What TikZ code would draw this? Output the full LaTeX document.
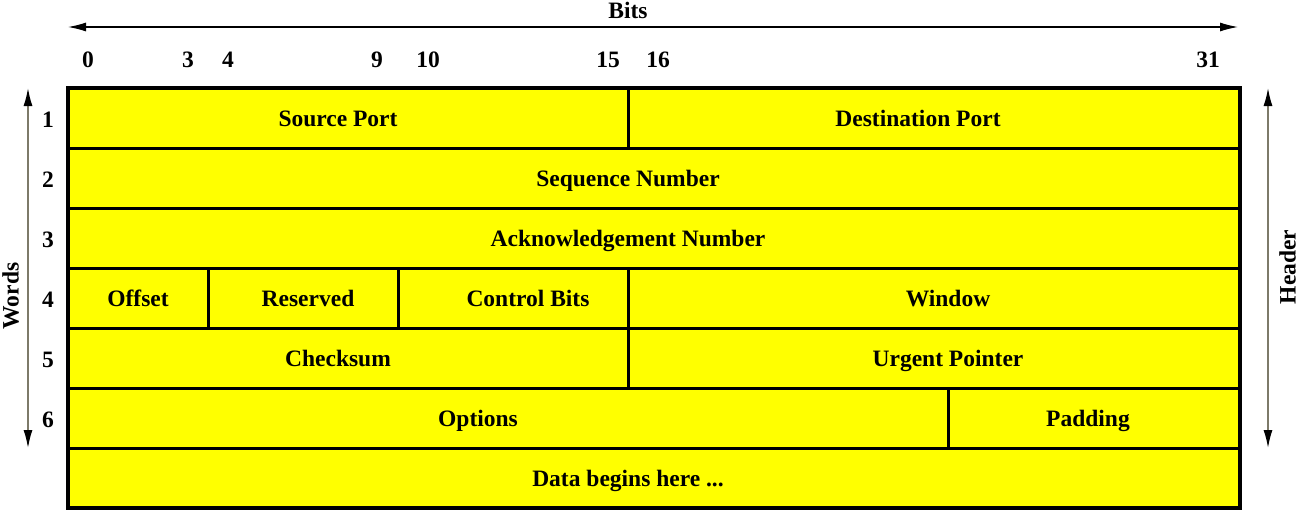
\documentclass[tikz,border=0pt]{standalone}
\usepackage{fontspec}
\setmainfont{Liberation Serif}
\usetikzlibrary{arrows.meta}
\definecolor{arrowgray}{RGB}{125,122,105}
\definecolor{fieldyellow}{RGB}{255,255,0}
\tikzset{
  field/.style={draw, fill=fieldyellow, line width=3pt},
  lbl/.style={font=\fontsize{23.5}{28}\selectfont\bfseries, text height=17pt, text depth=0pt, inner sep=1pt},
  tip/.style={{Latex[length=18pt,width=9pt,black]}-{Latex[length=18pt,width=9pt,black]}}
}
\begin{document}
\begin{tikzpicture}[x=1pt,y=-1pt,every node/.style={lbl}]
\useasboundingbox (0,0) rectangle (1298,512);

% header cells
\draw[field] (68,88) rectangle (628,148);
\draw[field] (628,88) rectangle (1240,148);
\draw[field] (68,148) rectangle (1240,208);
\draw[field] (68,208) rectangle (1240,268);
\draw[field] (68,268) rectangle (208,328);
\draw[field] (208,268) rectangle (398,328);
\draw[field] (398,268) rectangle (628,328);
\draw[field] (628,268) rectangle (1240,328);
\draw[field] (68,328) rectangle (628,388);
\draw[field] (628,328) rectangle (1240,388);
\draw[field] (68,388) rectangle (948,448);
\draw[field] (948,388) rectangle (1240,448);
\draw[field] (68,448) rectangle (1240,508);
\draw[line width=4pt] (68,88) rectangle (1240,508);

% field names
\node (src) at (338,118) {Source Port};
\node (dst) at (918,118) {Destination Port};
\node (seq) at (628,178) {Sequence Number};
\node (ack) at (628,238) {Acknowledgement Number};
\node (off) at (138,298) {Offset};
\node (res) at (308,298) {Reserved};
\node (ctl) at (528,298) {Control Bits};
\node (win) at (948,298) {Window};
\node (chk) at (338,358) {Checksum};
\node (urg) at (948,358) {Urgent Pointer};
\node (opt) at (478,418) {Options};
\node (pad) at (1088,418) {Padding};
\node (data) at (628,478) {Data begins here ...};

% bit numbers
\node (b0) at (88,59) {0};
\node (b3) at (188,59) {3};
\node (b4) at (228,59) {4};
\node (b9) at (377,59) {9};
\node (b10) at (428,59) {10};
\node (b15) at (608,59) {15};
\node (b16) at (658,59) {16};
\node (b31) at (1208,59) {31};
\node (bits) at (628,10) {Bits};
\coordinate (bitsl) at (68,27);
\coordinate (bitsr) at (1238,27);
\draw[tip, line width=1.2pt] (bitsl) -- (bitsr);

% word numbers
\node (w1) at (48,119) {1};
\node (w2) at (48,179) {2};
\node (w3) at (48,239) {3};
\node (w4) at (48,299) {4};
\node (w5) at (48,359) {5};
\node (w6) at (48,419) {6};
\node[rotate=90] (words) at (10,296) {Words};
\coordinate (wordst) at (28,88);
\coordinate (wordsb) at (28,448);
\draw[tip, line width=1.5pt, arrowgray] (wordst) -- (wordsb);

\node[rotate=90] (header) at (1287,267) {Header};
\coordinate (headt) at (1268,88);
\coordinate (headb) at (1268,448);
\draw[tip, line width=1.5pt, arrowgray] (headt) -- (headb);
\end{tikzpicture}
\end{document}
